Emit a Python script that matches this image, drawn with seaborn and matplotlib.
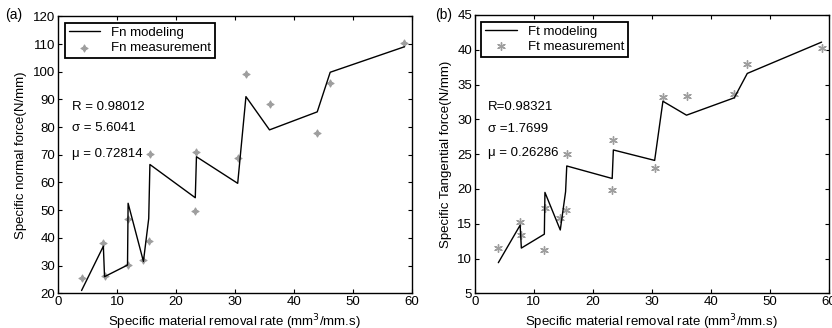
import matplotlib
matplotlib.use("Agg")
import matplotlib.pyplot as plt
import seaborn as sns
import pandas as pd

# removal rate values shared by both panels
mrr = [4.0, 7.7, 7.9, 11.8, 11.9, 14.5, 15.4, 15.6, 23.3, 23.5, 30.5, 31.9, 35.9, 44.0, 46.2, 58.8]

# (a) specific normal force
fn_model = [21.0, 37.0, 26.0, 30.2, 52.5, 31.5, 47.0, 66.5, 54.5, 69.3, 59.7, 91.0, 79.0, 85.5, 99.8, 109.0]
fn_meas = [25.4, 38.2, 26.2, 30.1, 47.0, 32.0, 39.0, 70.2, 49.8, 71.0, 69.0, 99.2, 88.4, 77.8, 96.0, 110.3]

# (b) specific tangential force
ft_model = [9.4, 14.8, 11.5, 13.5, 19.5, 14.1, 19.6, 23.3, 21.5, 25.6, 24.1, 32.6, 30.6, 33.1, 36.6, 41.1]
ft_meas = [11.5, 15.2, 13.4, 11.2, 17.2, 15.8, 17.0, 25.0, 19.8, 27.0, 23.0, 33.2, 33.3, 33.6, 38.0, 40.3]

stats_a = ["R = 0.98012", "\u03c3 = 5.6041", "\u03bc = 0.72814"]
stats_b = ["R=0.98321", "\u03c3 =1.7699", "\u03bc = 0.26286"]

sns.set_style("ticks", {"xtick.direction": "in", "ytick.direction": "in"})
plt.rcParams['font.family'] = ['Liberation Sans', 'DejaVu Sans']
plt.rcParams['font.size'] = 9.5
plt.rcParams['text.color'] = 'black'
plt.rcParams['axes.labelcolor'] = 'black'

df = pd.DataFrame({'mrr': mrr, 'fn_model': fn_model, 'fn_meas': fn_meas,
                   'ft_model': ft_model, 'ft_meas': ft_meas})

fig = plt.figure(figsize=(8.32, 3.28), dpi=100)
ax1 = fig.add_axes([0.0697, 0.1058, 0.4249, 0.8445])
ax2 = fig.add_axes([0.5706, 0.1058, 0.4254, 0.8485])

gray = '0.62'

# panel (a)
sns.lineplot(data=df, x='mrr', y='fn_model', sort=False, estimator=None,
             color='black', linewidth=1.0, label='Fn modeling', ax=ax1)
sns.scatterplot(data=df, x='mrr', y='fn_meas', marker=(4, 1, 0), s=26,
                color=gray, edgecolor=gray, linewidth=0.8, label='Fn measurement', ax=ax1)
ax1.set_xlim(0, 60)
ax1.set_ylim(20, 120)
ax1.set_yticks(range(20, 121, 10))
ax1.set_ylabel('Specific normal force(N/mm)', labelpad=4)
for txt, yv in zip(stats_a, [87.3, 79.7, 70.3]):
    ax1.text(2.4, yv, txt, va='center', ha='left', fontsize=9.5)
fig.text(0.006, 0.955, '(a)', fontsize=10, va='center')

# panel (b)
sns.lineplot(data=df, x='mrr', y='ft_model', sort=False, estimator=None,
             color='black', linewidth=1.0, label='Ft modeling', ax=ax2)
sns.scatterplot(data=df, x='mrr', y='ft_meas', marker=(6, 2, 0), s=30,
                color=gray, edgecolor=gray, linewidth=1.0, label='Ft measurement', ax=ax2)
ax2.set_xlim(0, 60)
ax2.set_ylim(5, 45)
ax2.set_yticks(range(5, 46, 5))
ax2.set_ylabel('Specific Tangential force(N/mm)', labelpad=4)
for txt, yv in zip(stats_b, [31.8, 28.6, 25.2]):
    ax2.text(2.25, yv, txt, va='center', ha='left', fontsize=9.5)
fig.text(0.5225, 0.955, '(b)', fontsize=10, va='center')

for ax in (ax1, ax2):
    ax.set_xticks(range(0, 61, 10))
    ax.set_xlabel('Specific material removal rate (mm$^3$/mm.s)', labelpad=3)
    ax.tick_params(top=True, right=True, length=3, width=0.8, labelsize=9.5, pad=2, colors='black')
    for sp in ax.spines.values():
        sp.set_visible(True)
        sp.set_color('black')
        sp.set_linewidth(1.0)
    leg = ax.legend(loc='upper left', frameon=True, fancybox=False, edgecolor='black',
                    framealpha=1, fontsize=9.5, borderpad=0.3, labelspacing=0.2,
                    handlelength=2.4, borderaxespad=0.5)
    leg.get_frame().set_linewidth(1.3)

fig.savefig('out.png', dpi=100)
